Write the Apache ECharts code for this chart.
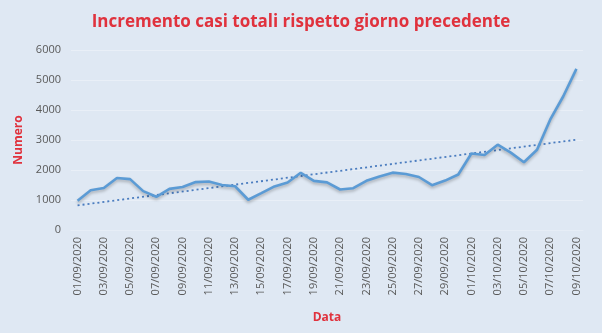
<!DOCTYPE html>
<html>
<head>
<meta charset="utf-8">
<script src="https://cdn.jsdelivr.net/npm/echarts@6/dist/echarts.min.js"></script>
<style>
  html, body { margin: 0; padding: 0; background: #dfe8f3; }
  #chart { width: 602px; height: 333px; }
</style>
</head>
<body>
<div id="chart"></div>
<script>
// Daily increase of total cases, 1 Sep - 9 Oct 2020
const dates = [
  '01/09/2020','02/09/2020','03/09/2020','04/09/2020','05/09/2020','06/09/2020','07/09/2020',
  '08/09/2020','09/09/2020','10/09/2020','11/09/2020','12/09/2020','13/09/2020','14/09/2020',
  '15/09/2020','16/09/2020','17/09/2020','18/09/2020','19/09/2020','20/09/2020','21/09/2020',
  '22/09/2020','23/09/2020','24/09/2020','25/09/2020','26/09/2020','27/09/2020','28/09/2020',
  '29/09/2020','30/09/2020','01/10/2020','02/10/2020','03/10/2020','04/10/2020','05/10/2020',
  '06/10/2020','07/10/2020','08/10/2020','09/10/2020'
];
const increments = [
  978, 1326, 1397, 1733, 1695, 1297, 1108,
  1370, 1434, 1597, 1616, 1501, 1458, 1008,
  1229, 1452, 1585, 1907, 1638, 1587, 1350,
  1392, 1640, 1786, 1912, 1869, 1766, 1494,
  1648, 1851, 2548, 2499, 2844, 2578, 2257,
  2677, 3678, 4458, 5372
];
// Linear trend line: value at the first and last day
const trendEnds = [820, 3010];
const yTicks = { min: 0, max: 6000, interval: 1000 };

const trendData = dates.map((d, i) =>
  i === 0 ? trendEnds[0] : (i === dates.length - 1 ? trendEnds[1] : null));

const chart = echarts.init(document.getElementById('chart'), null, { renderer: 'canvas' });
chart.setOption({
  backgroundColor: '#dfe8f3',
  animation: false,
  title: {
    text: 'Incremento casi totali rispetto giorno precedente',
    left: 'center',
    top: 9,
    textStyle: {
      color: '#e0323d',
      fontFamily: 'Open Sans',
      fontWeight: 'bold',
      fontSize: 17
    }
  },
  grid: { left: 71, right: 19, top: 50, bottom: 103, containLabel: false },
  xAxis: {
    type: 'category',
    data: dates,
    boundaryGap: true,
    name: 'Data',
    nameLocation: 'middle',
    nameGap: 82,
    nameTextStyle: { color: '#e0323d', fontWeight: 'bold', fontSize: 12, fontFamily: 'Open Sans' },
    axisLine: { show: true, lineStyle: { color: '#e6edf6', width: 1 } },
    axisTick: { show: false },
    axisLabel: {
      interval: 1,
      rotate: 90,
      color: '#595959',
      fontSize: 11,
      fontFamily: 'Open Sans',
      margin: 7
    },
    splitLine: { show: false }
  },
  yAxis: {
    type: 'value',
    min: yTicks.min,
    max: yTicks.max,
    interval: yTicks.interval,
    name: 'Numero',
    nameLocation: 'middle',
    nameGap: 44,
    nameRotate: 90,
    nameTextStyle: { color: '#e0323d', fontWeight: 'bold', fontSize: 12, fontFamily: 'Open Sans' },
    axisLine: { show: false },
    axisTick: { show: false },
    axisLabel: {
      color: '#595959',
      fontSize: 11,
      fontFamily: 'Open Sans',
      margin: 10,
      formatter: v => String(v)
    },
    splitLine: { lineStyle: { color: '#e9eff7', width: 1 } }
  },
  series: [
    {
      name: 'Incremento',
      type: 'line',
      data: increments,
      symbol: 'none',
      lineStyle: {
        color: '#5b9bd5',
        width: 2.6,
        shadowColor: 'rgba(0,0,0,0.25)',
        shadowBlur: 3,
        shadowOffsetY: 2
      },
      z: 3
    },
    {
      name: 'Tendenza',
      type: 'line',
      data: trendData,
      connectNulls: true,
      symbol: 'none',
      lineStyle: { color: '#4a7cbf', width: 1.8, type: [2, 3] },
      z: 2
    }
  ]
});
</script>
</body>
</html>
